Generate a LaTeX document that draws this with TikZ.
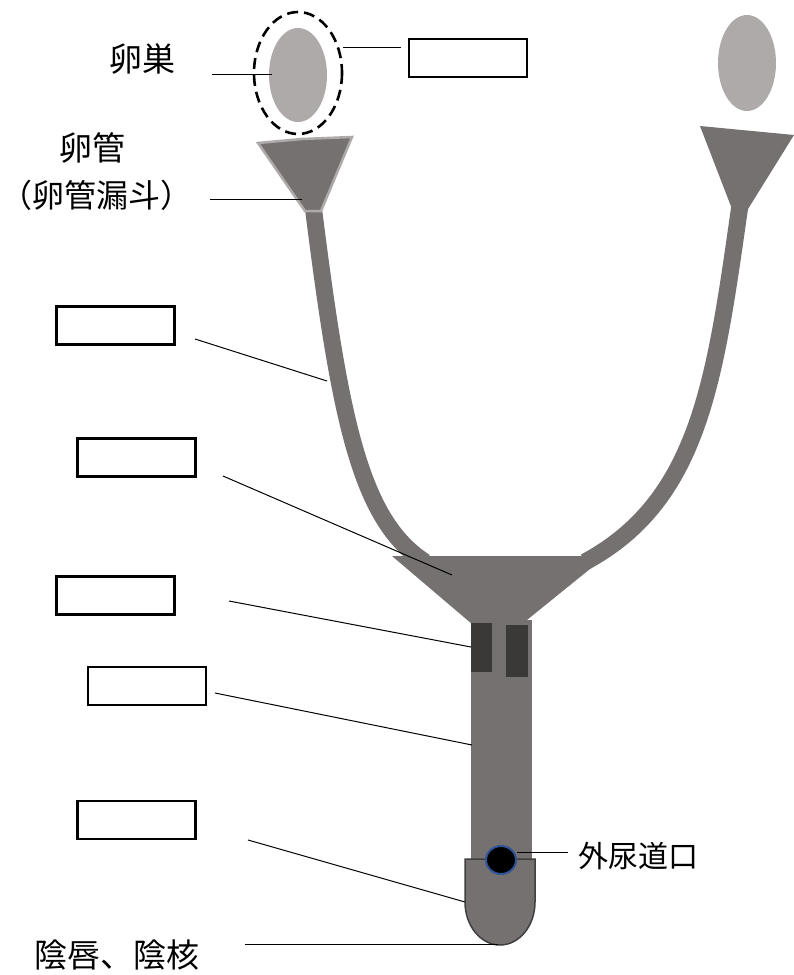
\documentclass[tikz,border=0pt]{standalone}
\usepackage{fontspec}
\newfontfamily\jpfont{Noto Sans CJK JP}
\definecolor{organ}{HTML}{757170}
\definecolor{ovary}{HTML}{AEAAAA}
\definecolor{cervix}{HTML}{3B3838}
\definecolor{rim}{HTML}{404040}
\definecolor{orifice}{HTML}{2F5597}
\tikzset{
    blank/.style={draw=black, line width=2.4pt, minimum width=118pt, minimum height=38pt, inner sep=0pt},
    leader/.style={line width=1pt},
    jp/.style={font=\jpfont\fontsize{33}{36}\selectfont, inner sep=0pt},
    tube/.style={draw=organ, line width=17pt, line cap=butt},
}

\begin{document}
\begin{tikzpicture}[x=1pt, y=-1pt]
\useasboundingbox (0,0) rectangle (794,975);

% ovaries
\fill[ovary] (298,75) ellipse [x radius=29, y radius=47];
\fill[ovary] (747,63) ellipse [x radius=29, y radius=48];
\draw[line width=2.6pt, dash pattern=on 11pt off 6pt] (298,73) ellipse [x radius=44, y radius=61];

% tubes
\draw[tube] (313,205) .. controls (340,420) and (360,520) .. (425,562);
\draw[tube] (740,205) .. controls (715,380) and (700,500) .. (585,562);

% funnels
\filldraw[fill=organ, draw=ovary, line width=2.5pt, line join=miter]
    (258,143) -- (302,139) -- (352,137) -- (321,211) -- (305,211) -- cycle;
\fill[organ] (700,126) -- (794,135) -- (748,209) -- (732,209) -- cycle;

% uterus, vagina
\fill[organ] (392,556) -- (606,556) -- (522,624) -- (472,624) -- cycle;
\fill[organ] (471,620) rectangle (532,862);
\fill[cervix] (471,623) rectangle (492,672);
\fill[cervix] (506,625) rectangle (528,677);

% vulva
\filldraw[fill=organ, draw=rim, line width=1.5pt]
    (465,859) -- (465,902) arc[start angle=180, end angle=0, x radius=35, y radius=43] -- (535,859) -- cycle;
\filldraw[fill=black, draw=orifice, line width=2pt] (501,860) ellipse [x radius=15, y radius=14];

% blanks
\node[blank] (b1) at (468,58) {};
\node[blank] (b2) at (115.5,325.5) {};
\node[blank] (b3) at (136.5,457.5) {};
\node[blank] (b4) at (115.5,595.5) {};
\node[blank] (b5) at (147,686) {};
\node[blank] (b6) at (136.5,820) {};

% labels
\node[jp] (ransou) at (142,59) {卵巣};
\node[jp] (rankan) at (92,148) {卵管};
\node[jp, font=\jpfont\fontsize{32}{36}\selectfont] (routo) at (97,195) {（卵管漏斗）};
\node[jp] (inshin) at (117,955) {陰唇、陰核};
\node[jp, font=\jpfont\fontsize{30}{34}\selectfont] (nyou) at (638,856) {外尿道口};

% leaders
\coordinate (p1) at (212,74);  \coordinate (q1) at (272,74);
\coordinate (p2) at (343,47);  \coordinate (q2) at (401,47);
\coordinate (p3) at (210,199); \coordinate (q3) at (302,199);
\coordinate (p4) at (195,339); \coordinate (q4) at (327,381);
\coordinate (p5) at (223,476); \coordinate (q5) at (452,575);
\coordinate (p6) at (229,601); \coordinate (q6) at (471,647);
\coordinate (p7) at (215,693); \coordinate (q7) at (472,745);
\coordinate (p8) at (248,840); \coordinate (q8) at (465,902);
\coordinate (p9) at (245,944); \coordinate (q9) at (498,944);
\coordinate (p10) at (517,852); \coordinate (q10) at (568,852);
\foreach \i in {1,...,10}
    \draw[leader] (p\i) -- (q\i);
\end{tikzpicture}
\end{document}
